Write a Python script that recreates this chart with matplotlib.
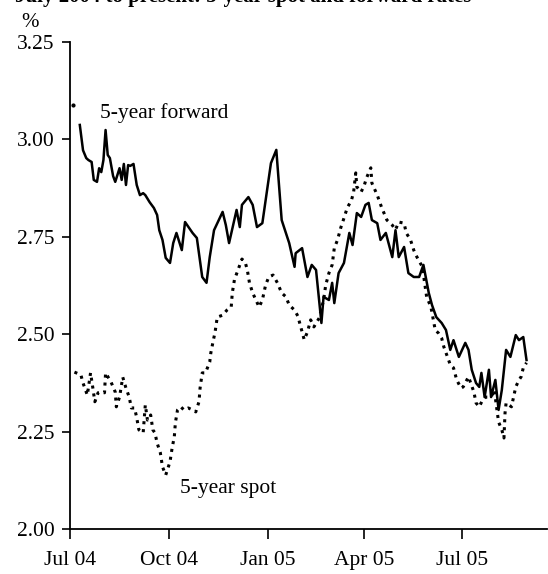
import numpy as np
import pandas as pd
import matplotlib
matplotlib.use("Agg")
import matplotlib.pyplot as plt

plt.rcParams['font.family'] = ['Liberation Serif', 'DejaVu Serif']

start = pd.Timestamp('2004-07-01')

# days since 1 Jul 2004, % rate
fwd_days = [3, 9, 12, 15, 17, 20, 22, 25, 27, 29, 31, 33, 35, 37, 40, 42, 46, 48, 50, 52,
            54, 56, 59, 62, 65, 68, 70, 74, 78, 81, 83, 86, 89, 93, 96, 99, 104, 107, 114, 118,
            123, 127, 130, 134, 142, 145, 148, 155, 158, 160, 166, 170, 174, 179, 183, 187, 192, 197, 204, 209,
            210, 216, 221, 225, 229, 234, 236, 241, 244, 246, 250, 255, 260, 263, 267, 271, 275, 278, 281, 286,
            289, 294, 300, 303, 306, 311, 315, 320, 325, 329, 334, 337, 341, 346, 350, 354, 357, 362, 368, 371,
            374, 378, 381, 383, 386, 390, 392, 396, 399, 402, 406, 410, 415, 418, 422, 425]
fwd_rate = [3.088, 3.037, 2.972, 2.952, 2.947, 2.942, 2.896, 2.891, 2.926, 2.916, 2.947, 3.024, 2.960, 2.952, 2.906, 2.891, 2.926, 2.896, 2.937, 2.883,
            2.934, 2.932, 2.937, 2.883, 2.857, 2.862, 2.857, 2.839, 2.824, 2.806, 2.767, 2.742, 2.696, 2.683, 2.734, 2.760, 2.716, 2.788, 2.760, 2.747,
            2.647, 2.632, 2.698, 2.767, 2.814, 2.780, 2.734, 2.819, 2.775, 2.832, 2.852, 2.832, 2.775, 2.785, 2.862, 2.939, 2.973, 2.793, 2.734, 2.673,
            2.708, 2.721, 2.647, 2.678, 2.665, 2.529, 2.596, 2.588, 2.632, 2.580, 2.657, 2.683, 2.760, 2.729, 2.811, 2.801, 2.832, 2.837, 2.793, 2.785,
            2.742, 2.760, 2.698, 2.767, 2.698, 2.724, 2.657, 2.647, 2.647, 2.678, 2.606, 2.575, 2.544, 2.529, 2.511, 2.460, 2.485, 2.442, 2.478, 2.460,
            2.409, 2.375, 2.365, 2.401, 2.339, 2.409, 2.339, 2.383, 2.306, 2.357, 2.460, 2.442, 2.498, 2.485, 2.493, 2.434]

spot_days = [4, 10, 12, 16, 19, 21, 23, 26, 29, 32, 33, 38, 42, 43, 46, 49, 52, 55, 57, 60,
             62, 64, 68, 70, 72, 75, 77, 79, 81, 84, 86, 89, 93, 95, 97, 98, 100, 103, 106, 110,
             114, 117, 120, 121, 123, 126, 130, 131, 133, 135, 137, 142, 146, 150, 151, 153, 157, 160, 163, 165,
             167, 170, 173, 176, 179, 182, 185, 189, 193, 197, 201, 204, 209, 212, 216, 218, 221, 224, 227, 232,
             236, 238, 241, 244, 246, 249, 252, 255, 258, 262, 264, 266, 267, 271, 274, 276, 280, 281, 286, 290,
             295, 300, 303, 306, 311, 313, 317, 320, 322, 328, 332, 336, 340, 343, 346, 348, 354, 357, 360, 364,
             366, 371, 376, 378, 381, 384, 387, 392, 395, 399, 402, 404, 405, 406, 411, 415, 418, 420, 422, 425]
spot_rate = [2.403, 2.396, 2.375, 2.344, 2.401, 2.365, 2.327, 2.350, 2.352, 2.350, 2.401, 2.378, 2.352, 2.314, 2.339, 2.390, 2.362, 2.339, 2.311, 2.311,
             2.286, 2.255, 2.247, 2.319, 2.280, 2.293, 2.255, 2.247, 2.221, 2.196, 2.160, 2.139, 2.173, 2.209, 2.237, 2.273, 2.306, 2.314, 2.306, 2.311,
             2.306, 2.301, 2.327, 2.362, 2.401, 2.401, 2.429, 2.452, 2.480, 2.506, 2.544, 2.549, 2.562, 2.570, 2.606, 2.640, 2.670, 2.693, 2.685, 2.665,
             2.632, 2.606, 2.588, 2.570, 2.588, 2.626, 2.647, 2.652, 2.632, 2.606, 2.596, 2.575, 2.562, 2.547, 2.506, 2.486, 2.506, 2.537, 2.519, 2.542,
             2.588, 2.626, 2.657, 2.678, 2.721, 2.742, 2.773, 2.798, 2.824, 2.844, 2.865, 2.914, 2.878, 2.865, 2.883, 2.901, 2.927, 2.888, 2.857, 2.826,
             2.793, 2.780, 2.768, 2.788, 2.785, 2.760, 2.742, 2.716, 2.703, 2.673, 2.596, 2.570, 2.511, 2.503, 2.490, 2.468, 2.422, 2.414, 2.383, 2.362,
             2.365, 2.391, 2.352, 2.324, 2.314, 2.331, 2.339, 2.339, 2.357, 2.275, 2.255, 2.234, 2.298, 2.324, 2.314, 2.365, 2.383, 2.391, 2.414, 2.427]

tick_dates = ['2004-07-01', '2004-10-01', '2005-01-01', '2005-04-01', '2005-07-01']
tick_labels = ['Jul 04', 'Oct 04', 'Jan 05', 'Apr 05', 'Jul 05']

fwd_x = start + pd.to_timedelta(fwd_days, unit='D')
spot_x = start + pd.to_timedelta(spot_days, unit='D')
fwd_y = np.array(fwd_rate)

fig = plt.figure(figsize=(5.48, 5.74), dpi=100)
ax = fig.add_axes([0.128, 0.078, 0.870, 0.849])

# first reading sits apart from the rest of the forward line
ax.plot(fwd_x[:1], fwd_y[:1], color='black', lw=2, marker='o', ms=2)
ax.plot(fwd_x[1:], fwd_y[1:], color='black', lw=1.8)
ax.plot(spot_x, spot_rate, color='black', lw=2.2, linestyle=(0, (1.0, 1.6)))

ax.set_ylim(2.0, 3.25)
ax.set_yticks([2.0, 2.25, 2.5, 2.75, 3.0, 3.25])
ax.set_yticklabels(['2.00', '2.25', '2.50', '2.75', '3.00', '3.25'])
ax.set_xlim(start, start + pd.Timedelta(days=444))
ax.set_xticks(pd.to_datetime(tick_dates))
ax.set_xticklabels(tick_labels)

for s in ['top', 'right']:
    ax.spines[s].set_visible(False)
ax.spines['left'].set_linewidth(1.3)
ax.spines['bottom'].set_linewidth(1.3)
ax.tick_params(axis='y', direction='out', length=6, width=1.2, labelsize=15.5, pad=5)
ax.tick_params(axis='x', direction='out', length=7, width=1.2, labelsize=15.5, pad=9)

ax.text(start + pd.Timedelta(days=28), 3.055, '5-year forward', fontsize=15.5, va='baseline')
ax.text(start + pd.Timedelta(days=102), 2.092, '5-year spot', fontsize=15.5, va='baseline')
fig.text(30 / 548, 1 - 27 / 574, '%', fontsize=15, ha='center', va='baseline')
# title line is cropped at the top edge in the source image
fig.text(15 / 548, 1 - 2 / 574, 'July 2004 to present: 5-year spot and forward rates',
         fontsize=15, fontweight='bold', va='baseline')

fig.savefig('out.png', dpi=100)
